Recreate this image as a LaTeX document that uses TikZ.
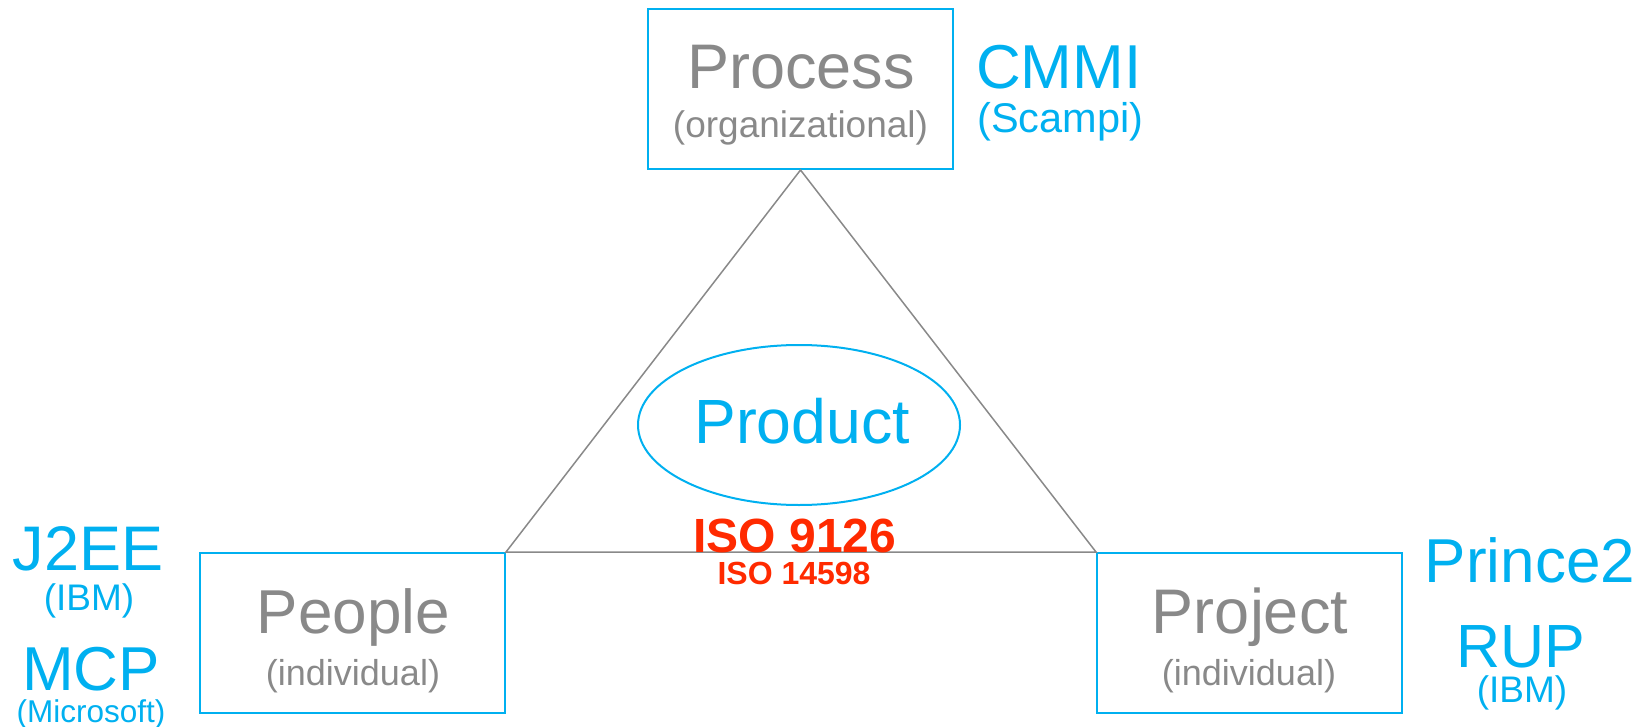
\documentclass[tikz,border=0pt]{standalone}
\usepackage{fontspec}
\setmainfont{Liberation Sans}
\usetikzlibrary{shapes.geometric}
\definecolor{cy}{HTML}{00B0F0}
\definecolor{gr}{HTML}{898989}
\definecolor{rd}{HTML}{FF2A00}
\newcommand{\fs}[1]{\fontsize{#1}{#1}\selectfont}
\tikzset{
  boxx/.style={draw=cy, line width=2pt, inner sep=0pt},
  gtxt/.style={text=gr, inner sep=0pt, anchor=base},
  ctxt/.style={text=cy, inner sep=0pt, anchor=base},
  rtxt/.style={text=rd, inner sep=0pt, anchor=base},
  tri/.style={draw=gr, line width=1.5pt}
}
\begin{document}
\begin{tikzpicture}[x=1pt,y=-1pt]
\useasboundingbox (0,0) rectangle (1648,727);
% boxes
\node[boxx, minimum width=305pt, minimum height=160pt] (proc) at (800.5,89) {};
\node[boxx, minimum width=305pt, minimum height=160pt] (peop) at (352.5,633) {};
\node[boxx, minimum width=305pt, minimum height=160pt] (proj) at (1249.5,633) {};
% triangle
\draw[tri] (proc.south) -- (peop.north east) -- (proj.north west) -- cycle;
% ellipse
\node[draw=cy, line width=2pt, ellipse, minimum width=322pt, minimum height=160pt, inner sep=0pt] (prod) at (799,425) {};
\node[ctxt, font=\fs{62.5}] (prodt) at (802,443) {Product};
% box texts
\node[gtxt, font=\fs{63}] (proct) at (801,89) {Process};
\node[gtxt, font=\fs{37}] (procs) at (800.5,138) {(organizational)};
\node[gtxt, font=\fs{62}] (peopt) at (353.5,633) {People};
\node[gtxt, font=\fs{36}] (peops) at (353,685) {(individual)};
\node[gtxt, font=\fs{63}] (projt) at (1250,633) {Project};
\node[gtxt, font=\fs{36}] (projs) at (1249,685) {(individual)};
% side labels
\node[ctxt, anchor=base west, font=\fs{62}] (cmmi) at (976,89) {CMMI};
\node[ctxt, anchor=base west, font=\fs{41.5}] (scampi) at (977,133) {(Scampi)};
\node[ctxt, font=\fs{63}] (j2ee) at (88,570) {J2EE};
\node[ctxt, font=\fs{37}] (ibm1) at (89,610) {(IBM)};
\node[ctxt, font=\fs{62}] (mcp) at (91,690) {MCP};
\node[ctxt, font=\fs{31.5}] (ms) at (91,722) {(Microsoft)};
\node[ctxt, font=\fs{62}] (prince) at (1530,582) {Prince2};
\node[ctxt, font=\fs{61}] (rup) at (1521,667) {RUP};
\node[ctxt, font=\fs{37}] (ibm2) at (1522,702) {(IBM)};
% ISO
\node[rtxt, font=\bfseries\fs{48}] (iso1) at (795,552) {ISO 9126};
\node[rtxt, font=\bfseries\fs{32}] (iso2) at (794,584) {ISO 14598};
\end{tikzpicture}
\end{document}
